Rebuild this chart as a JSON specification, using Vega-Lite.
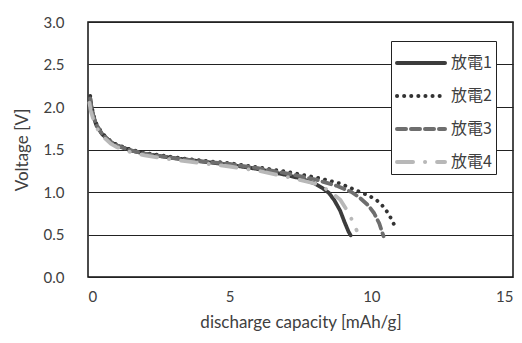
{
  "$schema": "https://vega.github.io/schema/vega-lite/v6.json",
  "width": 425,
  "height": 255,
  "autosize": {"type": "none"},
  "padding": {"left": 88, "top": 22, "right": 9, "bottom": 66},
  "background": "white",
  "config": {
    "view": {"stroke": "#111111", "strokeWidth": 1.5},
    "font": "Lato"
  },
  "data": {"values": [
    {"s":"放電1","x":0.08,"v":2.1},{"s":"放電1","x":0.12,"v":2.0},{"s":"放電1","x":0.2,"v":1.88},{"s":"放電1","x":0.3,"v":1.78},{"s":"放電1","x":0.5,"v":1.68},{"s":"放電1","x":0.8,"v":1.59},{"s":"放電1","x":1.0,"v":1.55},{"s":"放電1","x":1.5,"v":1.49},{"s":"放電1","x":2,"v":1.45},{"s":"放電1","x":3,"v":1.4},{"s":"放電1","x":4,"v":1.36},{"s":"放電1","x":5,"v":1.32},{"s":"放電1","x":6,"v":1.27},{"s":"放電1","x":7,"v":1.2},{"s":"放電1","x":7.5,"v":1.16},{"s":"放電1","x":8,"v":1.1},{"s":"放電1","x":8.3,"v":1.04},{"s":"放電1","x":8.5,"v":0.99},{"s":"放電1","x":8.7,"v":0.9},{"s":"放電1","x":8.9,"v":0.78},{"s":"放電1","x":9.05,"v":0.65},{"s":"放電1","x":9.2,"v":0.53},{"s":"放電1","x":9.27,"v":0.49},
    {"s":"放電2","x":0.08,"v":2.13},{"s":"放電2","x":0.12,"v":2.02},{"s":"放電2","x":0.2,"v":1.9},{"s":"放電2","x":0.3,"v":1.8},{"s":"放電2","x":0.5,"v":1.69},{"s":"放電2","x":0.8,"v":1.6},{"s":"放電2","x":1.0,"v":1.56},{"s":"放電2","x":1.5,"v":1.5},{"s":"放電2","x":2,"v":1.46},{"s":"放電2","x":3,"v":1.41},{"s":"放電2","x":4,"v":1.37},{"s":"放電2","x":5,"v":1.34},{"s":"放電2","x":6,"v":1.29},{"s":"放電2","x":7,"v":1.24},{"s":"放電2","x":7.6,"v":1.2},{"s":"放電2","x":8.2,"v":1.16},{"s":"放電2","x":8.9,"v":1.1},{"s":"放電2","x":9.25,"v":1.05},{"s":"放電2","x":9.6,"v":1.0},{"s":"放電2","x":9.9,"v":0.96},{"s":"放電2","x":10.2,"v":0.9},{"s":"放電2","x":10.45,"v":0.82},{"s":"放電2","x":10.63,"v":0.73},{"s":"放電2","x":10.77,"v":0.64},{"s":"放電2","x":10.85,"v":0.58},
    {"s":"放電3","x":0.08,"v":2.1},{"s":"放電3","x":0.12,"v":2.0},{"s":"放電3","x":0.2,"v":1.88},{"s":"放電3","x":0.3,"v":1.79},{"s":"放電3","x":0.5,"v":1.68},{"s":"放電3","x":0.8,"v":1.59},{"s":"放電3","x":1.0,"v":1.55},{"s":"放電3","x":1.5,"v":1.49},{"s":"放電3","x":2,"v":1.45},{"s":"放電3","x":3,"v":1.4},{"s":"放電3","x":4,"v":1.36},{"s":"放電3","x":5,"v":1.33},{"s":"放電3","x":6,"v":1.28},{"s":"放電3","x":7,"v":1.22},{"s":"放電3","x":8,"v":1.15},{"s":"放電3","x":8.8,"v":1.07},{"s":"放電3","x":9.3,"v":1.0},{"s":"放電3","x":9.6,"v":0.93},{"s":"放電3","x":9.9,"v":0.84},{"s":"放電3","x":10.1,"v":0.75},{"s":"放電3","x":10.28,"v":0.63},{"s":"放電3","x":10.38,"v":0.53},{"s":"放電3","x":10.43,"v":0.48},
    {"s":"放電4","x":0.05,"v":2.05},{"s":"放電4","x":0.1,"v":1.95},{"s":"放電4","x":0.2,"v":1.84},{"s":"放電4","x":0.3,"v":1.76},{"s":"放電4","x":0.5,"v":1.66},{"s":"放電4","x":0.8,"v":1.57},{"s":"放電4","x":1.0,"v":1.53},{"s":"放電4","x":1.5,"v":1.47},{"s":"放電4","x":2,"v":1.43},{"s":"放電4","x":3,"v":1.38},{"s":"放電4","x":4,"v":1.34},{"s":"放電4","x":5,"v":1.3},{"s":"放電4","x":6,"v":1.25},{"s":"放電4","x":7,"v":1.18},{"s":"放電4","x":8,"v":1.1},{"s":"放電4","x":8.5,"v":1.02},{"s":"放電4","x":8.9,"v":0.91},{"s":"放電4","x":9.15,"v":0.78},{"s":"放電4","x":9.35,"v":0.65},{"s":"放電4","x":9.48,"v":0.55}
  ]},
  "mark": {"type": "line", "strokeWidth": 3.8, "strokeCap": "round", "strokeJoin": "round"},
  "encoding": {
    "x": {
      "field": "x", "type": "quantitative",
      "scale": {"domain": [0, 15], "nice": false},
      "axis": {
        "values": [0, 5, 10, 15], "grid": false, "ticks": false, "domain": false,
        "labelFontSize": 15, "labelColor": "#404040", "labelPadding": 12,
        "title": "discharge capacity [mAh/g]", "titleFontSize": 17, "titleFontWeight": "normal",
        "titleColor": "#404040", "titlePadding": 10
      }
    },
    "y": {
      "field": "v", "type": "quantitative",
      "scale": {"domain": [0, 3], "nice": false},
      "axis": {
        "values": [0, 0.5, 1, 1.5, 2, 2.5, 3], "format": ".1f",
        "grid": true, "gridColor": "#222222", "gridWidth": 1, "gridOpacity": 1,
        "ticks": false, "domain": false,
        "labelFontSize": 15, "labelColor": "#404040", "labelPadding": 24,
        "title": "Voltage [V]", "titleFontSize": 17, "titleFontWeight": "normal",
        "titleColor": "#404040", "titlePadding": 12
      }
    },
    "color": {
      "field": "s", "type": "nominal",
      "scale": {"domain": ["放電1","放電2","放電3","放電4"], "range": ["#3c3c3c","#333333","#6e6e6e","#b8b8b8"]},
      "legend": {
        "title": null, "orient": "none", "legendX": 303, "legendY": 19,
        "strokeColor": "#222222", "fillColor": "white", "padding": 4,
        "symbolType": "M-1,0H2", "symbolSize": 1024, "symbolStrokeWidth": 4,
        "labelFont": "Noto Sans CJK JP", "labelFontSize": 16, "labelColor": "#404040",
        "rowPadding": 7, "labelOffset": 20,
        "encode": {"symbols": {"update": {"strokeCap": {"value": "round"}}}}
      }
    },
    "strokeDash": {
      "field": "s", "type": "nominal",
      "scale": {"domain": ["放電1","放電2","放電3","放電4"], "range": [[1,0],[0.1,7],[9,5],[16,12,0.1,12]]},
      "legend": null
    }
  }
}
